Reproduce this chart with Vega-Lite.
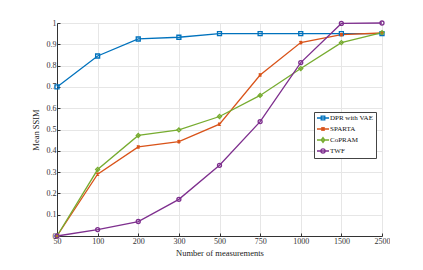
{
  "$schema": "https://vega.github.io/schema/vega-lite/v6.json",
  "width": 325,
  "height": 213,
  "padding": {"left": 31, "top": 18, "right": 0, "bottom": 0},
  "autosize": {"type": "pad"},
  "background": "white",
  "config": {
    "font": "Liberation Serif",
    "view": {"stroke": null},
    "axis": {
      "labelFont": "Liberation Serif",
      "titleFont": "Liberation Serif",
      "labelFontSize": 8,
      "titleFontSize": 8.5,
      "titleFontWeight": "normal",
      "labelColor": "#333",
      "titleColor": "#222",
      "domainColor": "#333",
      "tickColor": "#333",
      "gridColor": "#e6e6e6",
      "tickSize": -3
    }
  },
  "data": {
    "values": [
      {"n": "50", "method": "DPR with VAE", "ssim": 0.70},
      {"n": "100", "method": "DPR with VAE", "ssim": 0.845},
      {"n": "200", "method": "DPR with VAE", "ssim": 0.925},
      {"n": "300", "method": "DPR with VAE", "ssim": 0.933},
      {"n": "500", "method": "DPR with VAE", "ssim": 0.95},
      {"n": "750", "method": "DPR with VAE", "ssim": 0.95},
      {"n": "1000", "method": "DPR with VAE", "ssim": 0.95},
      {"n": "1500", "method": "DPR with VAE", "ssim": 0.95},
      {"n": "2500", "method": "DPR with VAE", "ssim": 0.95},
      {"n": "50", "method": "SPARTA", "ssim": 0.0},
      {"n": "100", "method": "SPARTA", "ssim": 0.29},
      {"n": "200", "method": "SPARTA", "ssim": 0.418},
      {"n": "300", "method": "SPARTA", "ssim": 0.443},
      {"n": "500", "method": "SPARTA", "ssim": 0.525},
      {"n": "750", "method": "SPARTA", "ssim": 0.756},
      {"n": "1000", "method": "SPARTA", "ssim": 0.908},
      {"n": "1500", "method": "SPARTA", "ssim": 0.945},
      {"n": "2500", "method": "SPARTA", "ssim": 0.953},
      {"n": "50", "method": "CoPRAM", "ssim": 0.0},
      {"n": "100", "method": "CoPRAM", "ssim": 0.312},
      {"n": "200", "method": "CoPRAM", "ssim": 0.472},
      {"n": "300", "method": "CoPRAM", "ssim": 0.498},
      {"n": "500", "method": "CoPRAM", "ssim": 0.561},
      {"n": "750", "method": "CoPRAM", "ssim": 0.66},
      {"n": "1000", "method": "CoPRAM", "ssim": 0.786},
      {"n": "1500", "method": "CoPRAM", "ssim": 0.908},
      {"n": "2500", "method": "CoPRAM", "ssim": 0.955},
      {"n": "50", "method": "TWF", "ssim": 0.0},
      {"n": "100", "method": "TWF", "ssim": 0.03},
      {"n": "200", "method": "TWF", "ssim": 0.068},
      {"n": "300", "method": "TWF", "ssim": 0.172},
      {"n": "500", "method": "TWF", "ssim": 0.332},
      {"n": "750", "method": "TWF", "ssim": 0.537},
      {"n": "1000", "method": "TWF", "ssim": 0.814},
      {"n": "1500", "method": "TWF", "ssim": 0.998},
      {"n": "2500", "method": "TWF", "ssim": 1.0}
    ]
  },
  "encoding": {
    "x": {
      "field": "n",
      "type": "ordinal",
      "sort": ["50", "100", "200", "300", "500", "750", "1000", "1500", "2500"],
      "scale": {"type": "point", "padding": 0},
      "axis": {"title": "Number of measurements", "labelAngle": 0, "grid": true, "labelPadding": 4, "titlePadding": 3}
    },
    "y": {
      "field": "ssim",
      "type": "quantitative",
      "scale": {"domain": [0, 1], "nice": false},
      "axis": {"title": "Mean SSIM", "values": [0, 0.1, 0.2, 0.3, 0.4, 0.5, 0.6, 0.7, 0.8, 0.9, 1], "format": ".1~f", "grid": true, "labelPadding": 4, "titlePadding": 6}
    },
    "color": {
      "field": "method",
      "type": "nominal",
      "sort": ["DPR with VAE", "SPARTA", "CoPRAM", "TWF"],
      "scale": {"domain": ["DPR with VAE", "SPARTA", "CoPRAM", "TWF"], "range": ["#0072BD", "#D95319", "#77AC30", "#7E2F8E"]},
      "legend": {
        "title": null,
        "orient": "none",
        "legendX": 257,
        "legendY": 89,
        "labelFont": "Liberation Serif",
        "labelFontSize": 7,
        "labelColor": "#111",
        "strokeColor": "#444",
        "fillColor": "white",
        "padding": 2,
        "rowPadding": 1,
        "symbolSize": 36,
        "symbolStrokeWidth": 1.3,
        "symbolOffset": 3,
        "labelOffset": 3,
        "encode": {
          "symbols": {
            "update": {
              "shape": {"signal": "datum.value === 'DPR with VAE' ? 'M-2,0L2,0M-0.6,-0.6L0.6,-0.6L0.6,0.6L-0.6,0.6Z' : datum.value === 'SPARTA' ? 'M-2,0L2,0M-0.55,-0.55L0.55,0.55M-0.55,0.55L0.55,-0.55M0,-0.7L0,0.7' : datum.value === 'CoPRAM' ? 'M-2,0L2,0M0,-0.8L0.6,0L0,0.8L-0.6,0Z' : 'M-2,0L2,0M0.7,0A0.7,0.7,0,1,1,-0.7,0A0.7,0.7,0,1,1,0.7,0'"}
            }
          }
        }
      }
    }
  },
  "layer": [
    {
      "mark": {"type": "line", "strokeWidth": 1.3}
    },
    {
      "transform": [{"filter": "datum.method === 'DPR with VAE'"}],
      "mark": {"type": "point", "shape": "square", "filled": false, "strokeWidth": 1.3, "size": 16, "opacity": 1}
    },
    {
      "transform": [{"filter": "datum.method === 'SPARTA'"}],
      "mark": {"type": "point", "shape": "M-0.7,-0.7L0.7,0.7M-0.7,0.7L0.7,-0.7M0,-0.9L0,0.9", "filled": false, "strokeWidth": 1.3, "size": 16, "opacity": 1}
    },
    {
      "transform": [{"filter": "datum.method === 'CoPRAM'"}],
      "mark": {"type": "point", "shape": "diamond", "filled": false, "strokeWidth": 1.3, "size": 16, "opacity": 1}
    },
    {
      "transform": [{"filter": "datum.method === 'TWF'"}],
      "mark": {"type": "point", "shape": "circle", "filled": false, "strokeWidth": 1.3, "size": 16, "opacity": 1}
    }
  ]
}
